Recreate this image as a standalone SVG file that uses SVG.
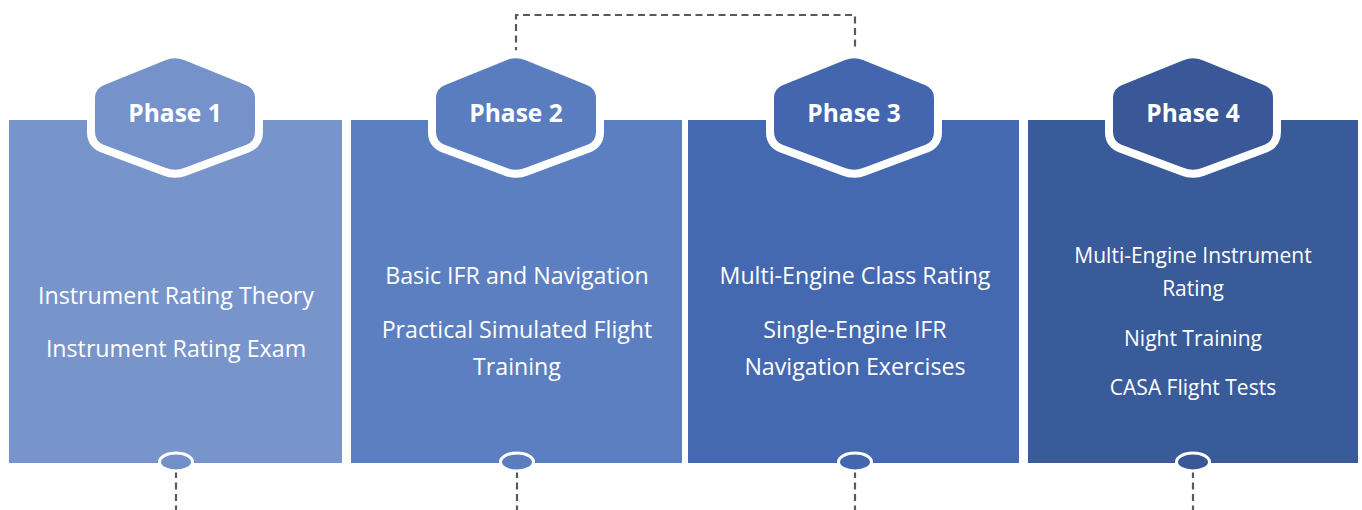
<svg xmlns="http://www.w3.org/2000/svg" xmlns:xlink="http://www.w3.org/1999/xlink" width="1362" height="510" viewBox="0 0 1362 510">
<style>
.title{font-family:"Open Sans","Liberation Sans",sans-serif;font-weight:bold;font-size:24.5px;fill:#fff;text-anchor:middle}
.body{font-family:"Open Sans","Liberation Sans",sans-serif;font-size:23.2px;fill:#fff;text-anchor:middle}
.body4{font-family:"Open Sans","Liberation Sans",sans-serif;font-size:21px;fill:#fff;text-anchor:middle}
.hex{stroke:#fff;stroke-width:8;stroke-linejoin:round}
.dot{stroke:#fff;stroke-width:3}
.dash{fill:none;stroke:#595959;stroke-width:2.2;stroke-dasharray:7 4.5}
</style>
<defs>
<path id="hexshape" d="M -11.1,-57.5 Q 0,-62 11.1,-57.5 L 72.9,-32.5 Q 84,-28 84,-16 L 84,18 Q 84,30 72.9,34.5 L 11.1,57.5 Q 0,62 -11.1,57.5 L -72.9,34.5 Q -84,30 -84,18 L -84,-16 Q -84,-28 -72.9,-32.5 Z"/>
</defs>
<rect width="1362" height="510" fill="#fff"/>
<g id="connectors">
<path class="dash" d="M 516,54 V 15 H 855 V 54"/>
<line class="dash" x1="176" y1="471" x2="176" y2="510"/>
<line class="dash" x1="517" y1="471" x2="517" y2="510"/>
<line class="dash" x1="855" y1="471" x2="855" y2="510"/>
<line class="dash" x1="1193" y1="471" x2="1193" y2="510"/>
</g>
<g id="phase1">
<rect x="9" y="120" width="333" height="343" fill="#7895CB"/>
<use xlink:href="#hexshape" class="hex" fill="#7592CA" transform="translate(175,114)"/>
<text class="title" x="175" y="122">Phase 1</text>
<text class="body" x="176" y="303.5">Instrument Rating Theory</text>
<text class="body" x="176" y="356.5">Instrument Rating Exam</text>
<ellipse class="dot" cx="176" cy="462" rx="16.5" ry="9" fill="#7391C9"/>
</g>
<g id="phase2">
<rect x="351" y="120" width="331" height="343" fill="#5B7FC0"/>
<use xlink:href="#hexshape" class="hex" fill="#5A7DBF" transform="translate(516,114)"/>
<text class="title" x="516" y="122">Phase 2</text>
<text class="body" x="517" y="283.5">Basic IFR and Navigation</text>
<text class="body" x="517" y="337.5">Practical Simulated Flight</text>
<text class="body" x="517" y="374.5">Training</text>
<ellipse class="dot" cx="517" cy="462" rx="16.5" ry="9" fill="#5A7DBF"/>
</g>
<g id="phase3">
<rect x="688" y="120" width="331" height="343" fill="#4469B0"/>
<use xlink:href="#hexshape" class="hex" fill="#4366AE" transform="translate(854,114)"/>
<text class="title" x="854" y="122">Phase 3</text>
<text class="body" x="855" y="283.5">Multi-Engine Class Rating</text>
<text class="body" x="855" y="337.5">Single-Engine IFR</text>
<text class="body" x="855" y="374.5">Navigation Exercises</text>
<ellipse class="dot" cx="855" cy="462" rx="16.5" ry="9" fill="#4366AE"/>
</g>
<g id="phase4">
<rect x="1028" y="120" width="330" height="343" fill="#3A5B9A"/>
<use xlink:href="#hexshape" class="hex" fill="#3A5898" transform="translate(1193,114)"/>
<text class="title" x="1193" y="122">Phase 4</text>
<text class="body4" x="1193" y="263">Multi-Engine Instrument</text>
<text class="body4" x="1193" y="296">Rating</text>
<text class="body4" x="1193" y="346">Night Training</text>
<text class="body4" x="1193" y="395">CASA Flight Tests</text>
<ellipse class="dot" cx="1193" cy="462" rx="16.5" ry="9" fill="#3A5898"/>
</g>
</svg>
